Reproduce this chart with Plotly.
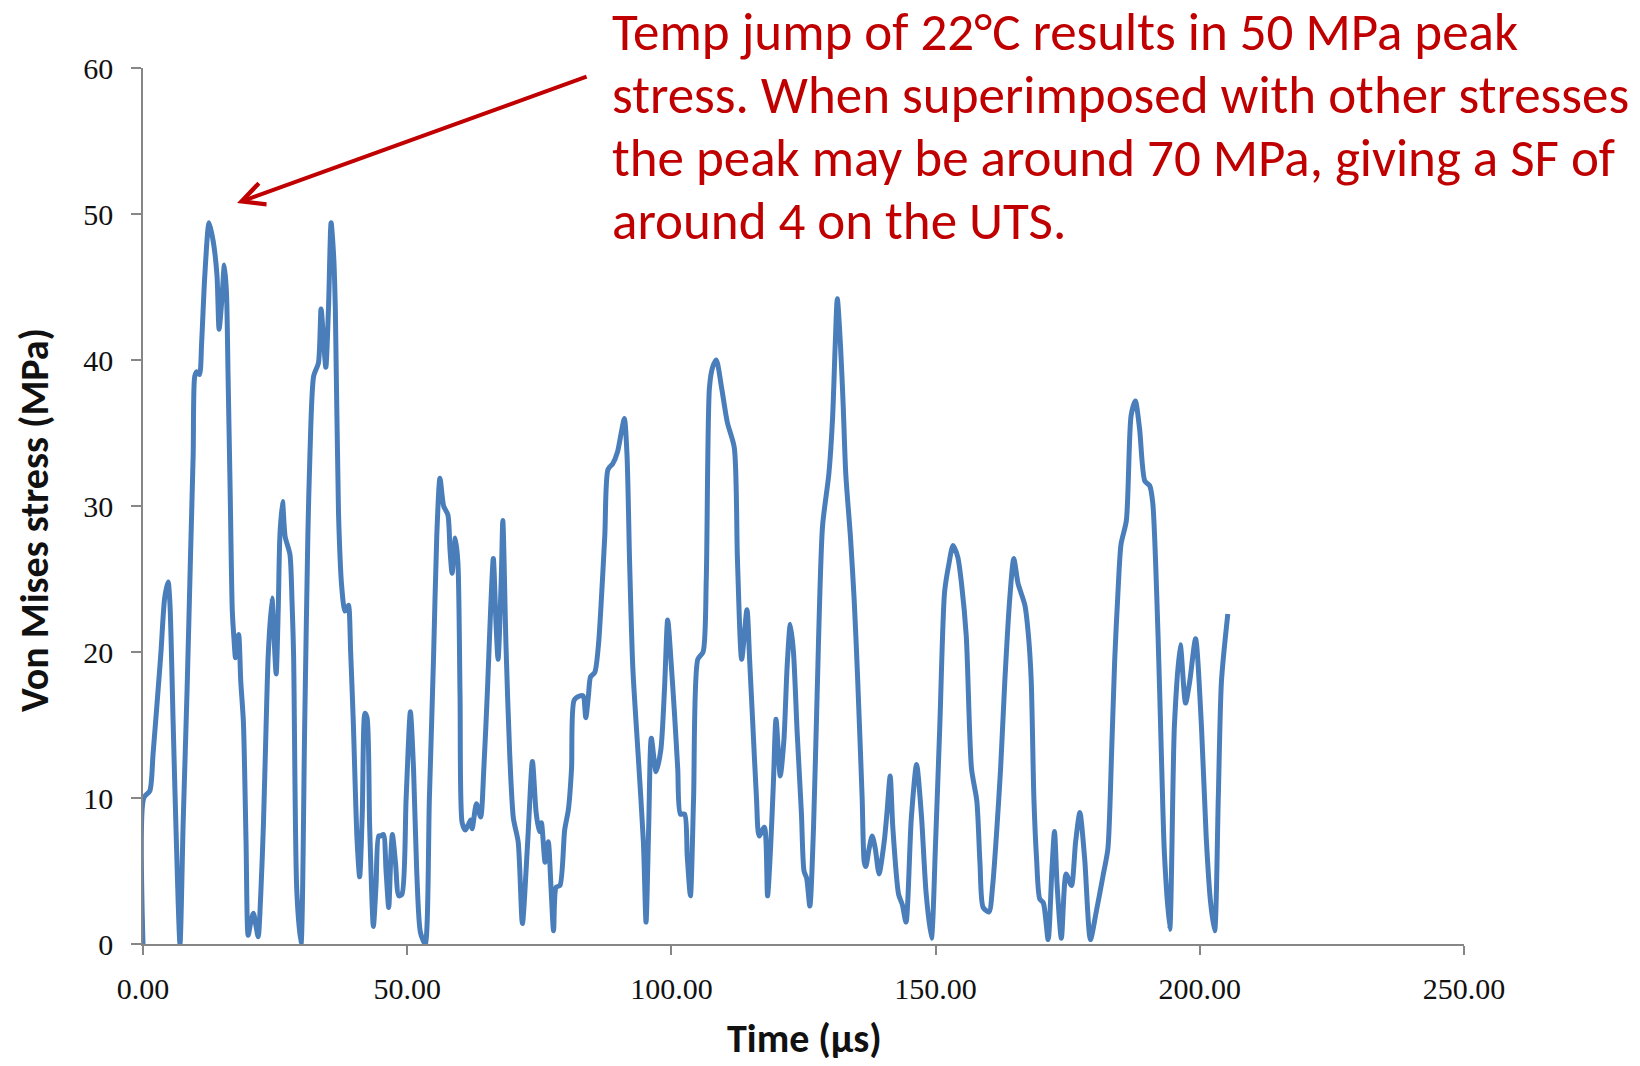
import plotly.graph_objects as go

# Time (µs) and von Mises stress (MPa)
time_us = [
    0, 0.15, 1.3, 1.9, 2.9, 3.4, 4.1, 4.75, 5.1, 5.7, 6.3, 7.0, 7.6, 8.35, 9.0, 9.5,
    9.8, 10.2, 10.7, 11.1, 11.7, 12.5, 13.3, 14.0, 14.4, 14.9, 15.4, 15.8, 16.1, 16.5,
    16.9, 17.2, 17.5, 17.8, 18.1, 18.5, 19.0, 19.5, 19.9, 20.4, 20.9, 21.4, 21.8, 22.3,
    22.8, 23.3, 23.7, 24.4, 24.8, 25.2, 25.6, 25.9, 26.4, 26.9, 27.8, 28.2, 28.5, 29.1,
    29.9, 30.6, 31.2, 31.6, 32.3, 33.2, 33.7, 34.2, 34.6, 35.1, 35.6, 36.1, 36.4, 37.0,
    37.6, 38.2, 38.6, 38.9, 39.3, 39.8, 40.5, 41.0, 41.5, 42.0, 42.4, 42.9, 43.6, 44.1,
    44.6, 45.0, 45.5, 46.0, 46.5, 46.9, 47.2, 47.8, 48.4, 49.0, 49.8, 50.6, 51.2, 51.8,
    52.5, 53.4, 54.2, 55.0, 55.6, 56.2, 56.9, 57.7, 58.1, 58.5, 59.1, 59.6, 60.0, 60.4,
    61.0, 61.6, 62.0, 62.3, 63.1, 63.9, 64.5, 65.2, 65.8, 66.3, 66.8, 67.2, 67.8, 68.1,
    68.7, 69.4, 70.1, 71.0, 71.8, 72.8, 73.7, 74.4, 75.0, 75.4, 76.1, 76.7, 77.2, 77.7,
    78.2, 78.9, 79.8, 80.5, 81.1, 81.6, 82.7, 83.3, 83.8, 84.3, 84.7, 85.5, 86.2, 86.7,
    87.4, 88.0, 88.9, 89.8, 90.5, 91.1, 91.6, 92.1, 92.7, 93.7, 94.7, 95.2, 95.7, 96.2,
    97.1, 98.0, 98.7, 99.3, 100.0, 100.6, 101.2, 101.7, 102.5, 103.0, 103.6, 104.2,
    105.0, 106.0, 106.6, 107.2, 107.8, 108.5, 109.5, 110.6, 111.9, 112.5, 113.3, 114.3,
    114.8, 115.4, 116.1, 116.6, 117.6, 118.2, 118.8, 119.3, 119.8, 120.6, 121.3, 121.9,
    122.5, 123.1, 123.8, 124.6, 125.1, 125.6, 126.2, 126.9, 127.6, 128.6, 129.8, 130.5,
    131.0, 131.4, 132.0, 132.5, 133.0, 133.9, 134.6, 135.2, 136.1, 136.5, 136.8, 137.4,
    138.0, 138.6, 139.3, 140.3, 140.8, 141.4, 141.9, 143.0, 143.7, 144.4, 145.4, 146.4,
    147.3, 148.2, 149.2, 150.0, 150.8, 151.7, 152.5, 153.3, 154.2, 154.9, 155.8, 156.8,
    157.8, 158.4, 159.0, 160.1, 160.8, 161.5, 162.3, 163.1, 164.0, 164.8, 165.6, 166.9,
    167.6, 168.1, 168.6, 169.1, 169.7, 170.4, 171.3, 172.0, 172.5, 173.0, 173.8, 174.7,
    175.7, 176.5, 177.3, 178.2, 179.3, 180.4, 181.7, 182.6, 183.3, 183.9, 184.5, 185.1,
    186.1, 187.0, 187.8, 188.6, 189.6, 190.5, 191.1, 192.1, 192.8, 193.3, 194.3, 195.2,
    196.3, 197.3, 198.1, 199.2, 200.3, 201.2, 202.0, 202.8, 203.5, 204.1, 205.3,
]
stress_mpa = [
    0, 10.0, 10.5, 13.0, 17.6, 20.0, 23.7, 24.8, 23.3, 15.2, 7.2, 0, 8.3, 17.5, 26.7, 33.6,
    38.9, 39.2, 39.0, 41.2, 45.8, 49.4, 48.1, 45.8, 42.1, 44.0, 46.5, 44.6, 38.9, 30.9,
    22.8, 21.0, 19.6, 20.8, 21.2, 18.0, 15.2, 7.0, 0.6, 1.5, 2.1, 1.2, 0.5, 3.5,
    8.3, 15.0, 19.8, 23.7, 21.0, 18.5, 23.0, 27.9, 30.3, 27.9, 26.7, 23.5, 19.8, 3.7,
    0, 15.0, 28.0, 33.6, 38.9, 39.8, 43.5, 41.2, 39.5, 43.5, 49.4, 47.0, 43.5, 29.5,
    24.5, 22.8, 23.0, 23.2, 20.0, 15.2, 7.2, 4.6, 9.0, 15.8, 15.5, 8.0, 1.2, 4.0,
    7.4, 7.4, 7.5, 5.0, 2.5, 6.0, 7.5, 5.5, 3.3, 3.4, 10.0, 15.9, 12.0, 5.0,
    0.8, 0, 10.0, 19.8, 28.0, 31.9, 30.0, 29.4, 27.0, 25.4, 27.8, 26.1, 17.0, 8.3,
    7.8, 8.2, 8.5, 7.9, 9.6, 8.7, 12.0, 17.5, 23.0, 26.4, 22.0, 19.5, 25.0, 29.0,
    20.4, 13.0, 8.6, 7.0, 1.4, 7.0, 12.5, 9.0, 7.7, 8.3, 5.6, 7.0, 4.0, 0.9,
    3.9, 4.0, 7.8, 9.2, 12.0, 16.7, 17.0, 17.0, 15.5, 17.0, 18.3, 18.6, 20.5, 23.3,
    28.0, 32.5, 32.9, 33.7, 35.0, 36.0, 33.5, 26.0, 18.9, 13.0, 7.0, 1.5, 8.0, 14.1,
    11.8, 13.3, 17.5, 22.2, 19.0, 15.7, 12.0, 8.9, 8.9, 6.0, 3.3, 10.0,
    19.5, 20.0, 25.0, 38.1, 39.5, 40.0, 38.1, 35.7, 34.0, 26.3, 19.5, 22.9,
    19.5, 15.1, 10.0, 7.4, 8.0, 3.3, 6.8, 11.0, 15.4, 11.5, 14.0, 19.0,
    21.9, 20.0, 14.5, 9.0, 5.0, 4.5, 2.6, 8.0, 17.4, 28.6, 32.2, 36.0,
    41.0, 44.2, 41.0, 37.0, 32.2, 27.8, 23.5, 18.6, 10.0, 5.6, 5.3, 6.5,
    7.4, 6.5, 4.8, 7.1, 9.0, 11.5, 8.0, 3.4, 2.7, 1.5, 8.6, 12.3,
    8.9, 3.5, 0.4, 7.0, 15.0, 24.1, 26.0, 27.3, 26.5, 24.7, 21.1, 12.0,
    9.8, 5.5, 2.5, 2.2, 4.0, 7.4, 12.0, 18.0, 23.5, 26.4, 24.7, 23.2,
    21.0, 18.0, 10.0, 5.9, 3.1, 2.8, 0.3, 5.0, 7.7, 4.0, 0.4, 4.8,
    4.0, 7.0, 9.0, 5.9, 0.3, 2.2, 4.7, 6.5, 13.0, 19.5, 24.0, 27.4,
    29.0, 36.2, 37.2, 35.3, 31.7, 31.4, 30.2, 21.1, 12.0, 6.2, 1.0, 15.0,
    20.5, 16.5, 18.0, 20.9, 15.0, 7.4, 3.0, 0.9, 10.0, 18.0, 22.6,
]

x_ticks = [0, 50, 100, 150, 200, 250]
y_ticks = [0, 10, 20, 30, 40, 50, 60]

note_lines = [
    "Temp jump of 22°C results in 50 MPa peak",
    "stress. When superimposed with other stresses",
    "the peak may be around 70 MPa, giving a SF of",
    "around 4 on the UTS.",
]
peak_time, peak_stress = 17.8, 50.75  # where the arrow points

W, H = 1640, 1066
ML, MR, MT, MB = 143, 176, 68, 122
PW, PH = W - ML - MR, H - MT - MB


def px(xp):
    return (xp - ML) / PW


def py(yp):
    return (H - MB - yp) / PH


fig = go.Figure()
fig.add_trace(go.Scatter(
    x=time_us, y=stress_mpa, mode="lines",
    line=dict(color="#4A7EBB", width=5, shape="spline", smoothing=0.7),
    showlegend=False, hoverinfo="skip",
))

axis_font = dict(family="Liberation Serif, Times New Roman, serif", size=30, color="#111111")
title_font = dict(family="Carlito, Calibri, Lato, sans-serif", size=40, color="#111111")
red = "#C00000"

annotations = [
    dict(text="<b>Von Mises stress (MPa)</b>", textangle=-90, xref="paper", yref="paper",
         x=px(34), y=py(520), xanchor="center", yanchor="middle", showarrow=False,
         font=title_font),
    dict(text="<b>Time (µs)</b>", xref="paper", yref="paper",
         x=px(804), y=py(1038), xanchor="center", yanchor="middle", showarrow=False,
         font=title_font),
    dict(text="", x=peak_time, y=peak_stress, xref="x", yref="y",
         ax=351, ay=-127, showarrow=True, arrowhead=5, arrowsize=1.1, arrowwidth=4,
         arrowcolor=red, standoff=0),
]
line_centers = [32.5, 95.3, 158, 220.8]
for txt, yc in zip(note_lines, line_centers):
    annotations.append(dict(
        text=txt, xref="paper", yref="paper", x=px(610), y=py(yc),
        xanchor="left", yanchor="middle", showarrow=False,
        font=dict(family="Carlito, Calibri, Lato, sans-serif", size=53, color=red),
    ))

fig.update_layout(
    width=W, height=H,
    margin=dict(l=ML, r=MR, t=MT, b=MB),
    paper_bgcolor="white", plot_bgcolor="white",
    xaxis=dict(range=[0, 250], tickvals=x_ticks, tickformat=".2f", showgrid=False,
               zeroline=False, showline=True, linecolor="#868686", linewidth=1.5,
               ticks="outside", ticklen=9, tickcolor="#868686", tickwidth=1.5,
               tickfont=axis_font, ticklabelstandoff=8),
    yaxis=dict(range=[0, 60], tickvals=y_ticks, showgrid=False, zeroline=False,
               showline=True, linecolor="#868686", linewidth=1.5,
               ticks="outside", ticklen=10, tickcolor="#868686", tickwidth=1.5,
               tickfont=axis_font, ticklabelstandoff=12),
    annotations=annotations,
)

fig.write_html("out.html")
